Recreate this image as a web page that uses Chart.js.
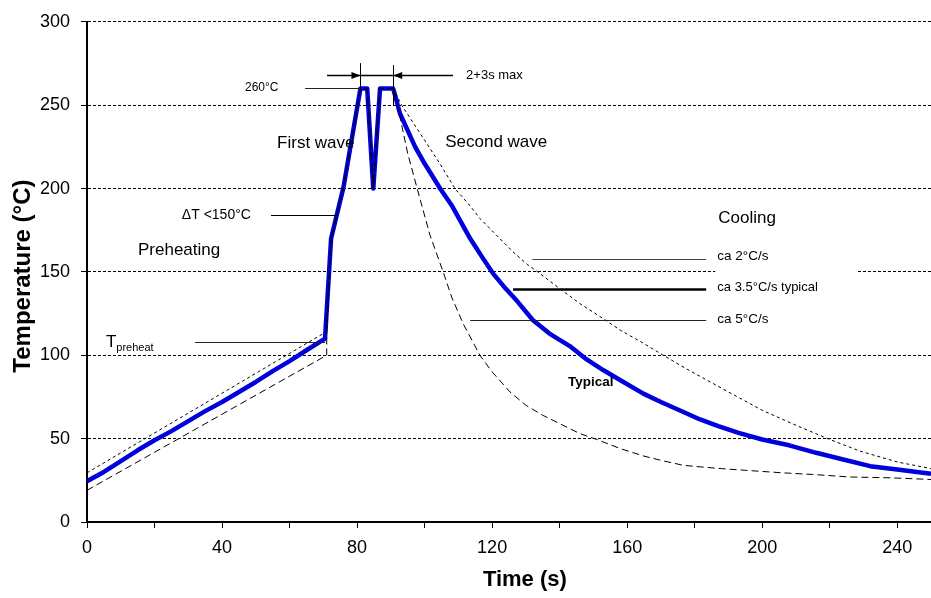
<!DOCTYPE html>
<html>
<head>
<meta charset="utf-8">
<script src="https://cdn.jsdelivr.net/npm/chart.js@4.4.1/dist/chart.umd.min.js"></script>
<style>
  html, body { margin: 0; padding: 0; background: #fff; }
</style>
</head>
<body>
<canvas id="profile" width="931" height="598"></canvas>
<script>
// axis ticks
const timeMarks = [0, 20, 40, 60, 80, 100, 120, 140, 160, 180, 200, 220, 240];
const timeLabels = [0, 40, 80, 120, 160, 200, 240];
const tempTicks = [0, 50, 100, 150, 200, 250, 300];

// typical profile (blue)
const typTime = [0, 5, 10, 15, 20, 25, 30, 35, 40, 45, 50, 55, 60, 65, 70.5, 72.3, 76, 81, 83, 84.8, 86.8, 90.7,
  92.7, 97.2, 100, 104.6, 108, 113.5, 117, 120.3, 124, 127.4, 132.1, 137, 143, 148, 153, 158, 164.8, 170, 175,
  181.6, 187, 193, 200, 208, 216, 224, 232, 240, 250];
const typTemp = [24.5, 30, 36.5, 43, 49, 54.5, 60.5, 66.5, 72, 78, 84, 90.5, 96.5, 103, 110, 170, 201, 260, 260, 200, 260, 260,
  245, 225, 215, 200, 190, 170, 159, 149, 140, 132.5, 121, 113, 105.5, 97.5, 91, 85, 77, 72, 67.5,
  61.5, 57.5, 53.5, 49.5, 46, 41.5, 37.5, 33.5, 31.5, 29];

// slow limit, ca 2°C/s (short dashes)
const slowTime = [0, 70.8, 72.3, 76, 81, 83, 84.8, 86.8, 90.7,
  93.2, 100, 104.5, 109, 113.5, 116.4, 126.2, 130.4, 133.5, 140, 146, 152.9, 158, 165, 170.7, 177, 183.7,
  190, 200, 210, 220, 229, 240, 250];
const slowTemp = [29.5, 114, 170, 201, 260, 260, 200, 260, 260,
  250, 229, 215, 200, 189.5, 182, 162, 154.5, 150, 140, 131, 122, 115, 107, 100, 92.5, 85,
  78, 67, 58, 49.5, 42.5, 36, 32];

// fast limit, ca 5°C/s (long dashes)
const fastTime = [0, 71, 71, 72.3, 76, 81, 83, 84.8, 86.8, 90.7,
  92.7, 95, 97.8, 101.6, 105.5, 108, 111.4, 116.4, 120, 125.3, 130, 135, 140, 146, 151, 158, 165, 170,
  176.6, 182, 188, 195, 206, 215, 226, 238, 250];
const fastTemp = [19, 100, 114, 170, 201, 260, 260, 200, 260, 260,
  243, 221, 200, 172, 150, 135, 119, 100, 90, 78, 70, 64, 59, 53, 49.5, 44, 39.5, 37,
  34, 33, 32, 31, 29.5, 28.5, 27, 26.5, 25.5];

const FONT = "'Liberation Sans', Arial, sans-serif";

function pairs(xs, ys) {
  return xs.map((x, i) => ({ x: x, y: ys[i] }));
}

// text annotations, placed in data units
const notes = [
  { text: '260°C', x: 46.8, y: 260.5, size: 12 },
  { text: '2+3s max', x: 112.3, y: 268.1, size: 13 },
  { text: 'First wave', x: 56.3, y: 227, size: 17 },
  { text: 'Second wave', x: 106.1, y: 227.5, size: 17 },
  { text: 'ΔT <150°C', x: 28.1, y: 184, size: 14 },
  { text: 'Cooling', x: 187, y: 182, size: 17 },
  { text: 'Preheating', x: 15.1, y: 163.2, size: 17 },
  { text: 'ca 2°C/s', x: 186.7, y: 159.1, size: 13.5 },
  { text: 'ca 3.5°C/s typical', x: 186.7, y: 140.8, size: 13 },
  { text: 'ca 5°C/s', x: 186.7, y: 121.4, size: 13.5 },
  { text: 'Typical', x: 142.5, y: 83.7, size: 13.5, bold: true }
];
const leaders = [
  { x0: 64.6, x1: 81, y: 260, w: 1, c: '#222' },
  { x0: 54.5, x1: 74, y: 184.4, w: 1, c: '#000' },
  { x0: 32, x1: 70.5, y: 107.8, w: 1, c: '#222' },
  { x0: 131.9, x1: 183.4, y: 158, w: 1, c: '#444' },
  { x0: 126.2, x1: 183.4, y: 140, w: 2.5, c: '#000' },
  { x0: 113.5, x1: 183.4, y: 121, w: 1, c: '#222' }
];

const annotations = {
  id: 'annotations',
  afterDatasetsDraw(chart) {
    const ctx = chart.ctx;
    const xs = chart.scales.x, ys = chart.scales.y;
    const px = v => xs.getPixelForValue(v);
    const py = v => ys.getPixelForValue(v);
    ctx.save();

    // white label box that hides the grid line behind "ca 2°C/s"
    ctx.fillStyle = '#fff';
    ctx.fillRect(px(186.1), py(165), px(228.1) - px(186.1), py(145) - py(165));

    // leader lines
    leaders.forEach(l => {
      ctx.beginPath();
      ctx.lineWidth = l.w;
      ctx.strokeStyle = l.c;
      ctx.moveTo(px(l.x0), Math.round(py(l.y)) + 0.5);
      ctx.lineTo(px(l.x1), Math.round(py(l.y)) + 0.5);
      ctx.stroke();
    });

    // wave duration marker
    ctx.strokeStyle = '#000';
    ctx.lineWidth = 1;
    ctx.beginPath();
    ctx.moveTo(Math.round(px(81)) + 0.5, py(275.2));
    ctx.lineTo(Math.round(px(81)) + 0.5, py(260));
    ctx.moveTo(Math.round(px(90.7)) + 0.5, py(274));
    ctx.lineTo(Math.round(px(90.7)) + 0.5, py(249.9));
    ctx.stroke();
    const ay = Math.round(py(268.1)) + 0.5;
    ctx.lineWidth = 1.5;
    ctx.beginPath();
    ctx.moveTo(px(71.1), ay);
    ctx.lineTo(px(108.4), ay);
    ctx.stroke();
    ctx.fillStyle = '#000';
    [[px(81), -1], [px(90.7), 1]].forEach(([tx, dir]) => {
      ctx.beginPath();
      ctx.moveTo(tx, ay);
      ctx.lineTo(tx + dir * 9, ay - 3.5);
      ctx.lineTo(tx + dir * 9, ay + 3.5);
      ctx.closePath();
      ctx.fill();
    });

    // texts
    ctx.fillStyle = '#000';
    ctx.textBaseline = 'middle';
    ctx.textAlign = 'left';
    notes.forEach(n => {
      ctx.font = (n.bold ? 'bold ' : '') + n.size + 'px ' + FONT;
      ctx.fillText(n.text, px(n.x), py(n.y));
    });

    // T with subscript
    ctx.font = '17px ' + FONT;
    const tx = px(5.6);
    ctx.fillText('T', tx, py(107.8));
    const tw = ctx.measureText('T').width;
    ctx.font = '11px ' + FONT;
    ctx.fillText('preheat', tx + tw, py(104.3));

    // axis titles
    ctx.font = 'bold 22px ' + FONT;
    ctx.textAlign = 'center';
    ctx.fillText('Time (s)', px(129.7), 580);
    ctx.font = 'bold 24px ' + FONT;
    ctx.translate(23, py(147.5));
    ctx.rotate(-Math.PI / 2);
    ctx.fillText('Temperature (°C)', 0, 0);

    ctx.restore();
  }
};

new Chart(document.getElementById('profile'), {
  type: 'line',
  data: {
    datasets: [
      {
        label: 'ca 2°C/s',
        data: pairs(slowTime, slowTemp),
        borderColor: '#000',
        borderWidth: 1,
        borderDash: [3, 3],
        pointRadius: 0,
        tension: 0
      },
      {
        label: 'ca 5°C/s',
        data: pairs(fastTime, fastTemp),
        borderColor: '#000',
        borderWidth: 1,
        borderDash: [7, 4],
        pointRadius: 0,
        tension: 0
      },
      {
        label: 'Typical',
        data: pairs(typTime, typTemp),
        borderColor: '#0000dd',
        borderWidth: 4.5,
        pointRadius: 0,
        tension: 0,
        borderJoinStyle: 'round'
      }
    ]
  },
  options: {
    responsive: false,
    animation: false,
    layout: { padding: { top: 13, left: 0, right: 0, bottom: 0 } },
    plugins: { legend: { display: false }, tooltip: { enabled: false } },
    scales: {
      x: {
        type: 'linear',
        min: 0,
        max: 250,
        afterBuildTicks: s => { s.ticks = timeMarks.map(v => ({ value: v })); },
        afterFit: s => { s.height = 76; },
        ticks: {
          autoSkip: false,
          maxRotation: 0,
          padding: 9,
          color: '#000',
          font: { family: FONT, size: 18 },
          callback: v => timeLabels.includes(v) ? String(v) : ''
        },
        grid: { drawOnChartArea: false, tickLength: 6, color: '#000' },
        border: { color: '#000', width: 2 }
      },
      y: {
        min: 0,
        max: 300,
        afterBuildTicks: s => { s.ticks = tempTicks.map(v => ({ value: v })); },
        afterFit: s => { s.width = 87; },
        ticks: {
          padding: 11,
          color: '#000',
          font: { family: FONT, size: 18 }
        },
        grid: { color: '#000', lineWidth: 1, tickLength: 6 },
        border: { color: '#000', width: 2, dash: [3, 2] }
      }
    }
  },
  plugins: [annotations]
});
</script>
</body>
</html>
